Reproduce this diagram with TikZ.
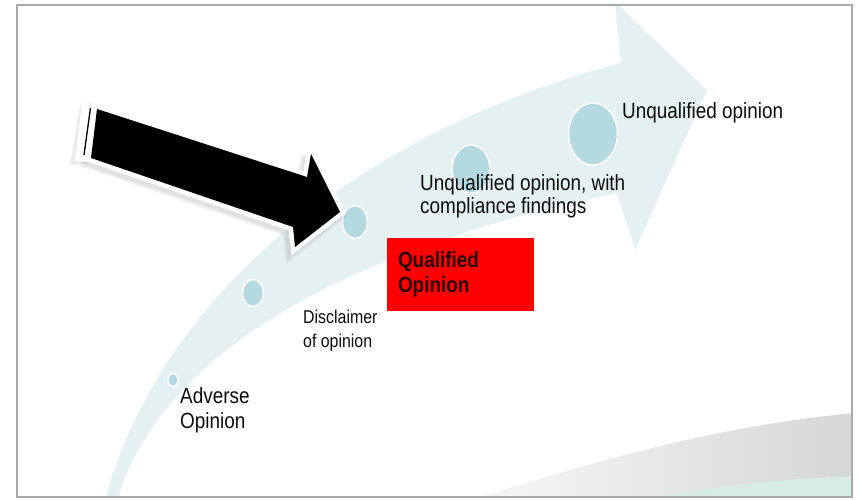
\documentclass[tikz,border=0pt]{standalone}
\usepackage{fontspec}
\setmainfont{Liberation Sans}[FakeStretch=0.86]
\usetikzlibrary{shapes.geometric}
\definecolor{bandblue}{RGB}{228,240,242}
\definecolor{dotblue}{RGB}{180,217,224}
\definecolor{framegray}{RGB}{170,170,170}
\definecolor{mint}{RGB}{214,236,228}
\definecolor{qtext}{RGB}{40,0,0}
\newcommand{\mylines}[1]{\begin{tabular}[t]{@{}l@{}}#1\end{tabular}}
\tikzset{
  dot/.style={ellipse, fill=dotblue, draw=white, line width=1.5pt, inner sep=0pt},
  lbl/.style={inner sep=0pt, anchor=base west, text=black!95, font=\fontsize{22}{23}\selectfont},
  qbox/.style={fill=red, minimum width=147pt, minimum height=73pt, text width=125pt,
    inner xsep=11pt, inner ysep=0pt, align=left, text=qtext,
    font=\bfseries\fontsize{22}{25}\selectfont},
  shadowline/.style={gray, line join=miter, miter limit=3, shift={(-3,3)}}
}
\begin{document}
\begin{tikzpicture}[x=1pt,y=-1pt]
\useasboundingbox (0,0) rectangle (860,500);
\fill[white] (0,0) rectangle (860,500);
\begin{scope}
  \clip (17,5) rectangle (852,497);
  % big light-blue curved arrow
  \fill[bandblue] (104,505) .. controls (150,320) and (330,140) .. (621,63)
     -- (615,2) -- (707,90) -- (635,250) -- (617,193)
     .. controls (270,265) and (145,395) .. (116,505) -- cycle;
  % grey swoosh bottom right
  \shade[left color=black!3, right color=black!16]
     (470,500) .. controls (600,460) and (720,425) .. (856,413) -- (856,500) -- cycle;
  \fill[mint] (645,500) .. controls (720,485) and (790,478) .. (856,476) -- (856,500) -- cycle;
\end{scope}
\draw[framegray, line width=1.2pt] (17,5) rectangle (852,497);
% milestone dots
\node[dot, minimum width=10pt, minimum height=13pt] (d1) at (173,380) {};
\node[dot, minimum width=21pt, minimum height=27pt] (d2) at (253,293) {};
\node[dot, minimum width=25pt, minimum height=33pt] (d3) at (355,222) {};
\node[dot, minimum width=38pt, minimum height=48pt] (d4) at (471,169) {};
\node[dot, minimum width=49pt, minimum height=62pt] (d5) at (593,134) {};
% black block arrow with white frame and soft shadow
\draw[shadowline, opacity=.06, line width=16pt]
  (97,109) -- (307,177) -- (311,154) -- (340,212) -- (295,247) -- (293,227) -- (91,158) -- cycle;
\draw[shadowline, opacity=.08, line width=13pt]
  (97,109) -- (307,177) -- (311,154) -- (340,212) -- (295,247) -- (293,227) -- (91,158) -- cycle;
\draw[shadowline, opacity=.10, line width=10pt]
  (97,109) -- (307,177) -- (311,154) -- (340,212) -- (295,247) -- (293,227) -- (91,158) -- cycle;
\fill[gray, opacity=.15] (80,106) -- (97,106) -- (89,163) -- (70,165) -- cycle;
\draw[white, line width=9pt, line join=miter, miter limit=3]
  (97,109) -- (307,177) -- (311,154) -- (340,212) -- (295,247) -- (293,227) -- (91,158) -- cycle;
\fill[white] (82,103) -- (97,105) -- (90,162) -- (75,161) -- cycle;
\fill[black] (97,109) -- (307,177) -- (311,154) -- (340,212) -- (295,247) -- (293,227) -- (91,158) -- cycle;
\draw[black, line width=1.3pt] (90.5,108) -- (84,155);
% labels
\node[lbl] (uq) at (622,119) {Unqualified opinion};
\node[lbl] (uqc) at (420,190) {\mylines{Unqualified opinion, with\\compliance findings}};
\node[lbl, font=\fontsize{18.5}{24}\selectfont] (dis) at (303,323) {\mylines{Disclaimer\\of opinion}};
\node[lbl, font=\fontsize{22}{25}\selectfont] (adv) at (180,403) {\mylines{Adverse\\Opinion}};
\node[qbox] (ql) at (460.5,274.5) {Qualified\\Opinion};
\end{tikzpicture}
\end{document}
